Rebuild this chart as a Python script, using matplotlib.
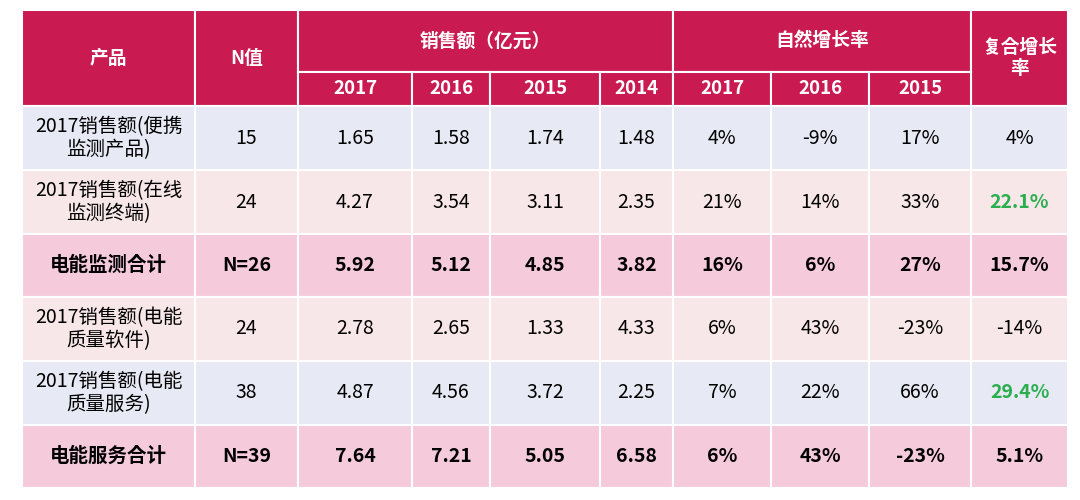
import matplotlib
matplotlib.use("Agg")
import matplotlib.pyplot as plt
from matplotlib.patches import Rectangle
from matplotlib import font_manager as fm

cjk_path = None
for f in fm.findSystemFonts():
    if "CJK" in f and ("Regular" in f or "Medium" in f):
        cjk_path = f
        break
if cjk_path is None:
    for f in fm.findSystemFonts():
        if "CJK" in f:
            cjk_path = f
            break
if cjk_path:
    fm.fontManager.addfont(cjk_path)
    fam = fm.FontProperties(fname=cjk_path).get_name()
    plt.rcParams["font.family"] = [fam, "DejaVu Sans"]
else:
    plt.rcParams["font.family"] = ["Noto Sans CJK SC", "Noto Sans CJK JP", "DejaVu Sans"]

products = ["2017销售额(便携\n监测产品)", "2017销售额(在线\n监测终端)", "电能监测合计",
            "2017销售额(电能\n质量软件)", "2017销售额(电能\n质量服务)", "电能服务合计"]
n_values = ["15", "24", "N=26", "24", "38", "N=39"]
sales = [["1.65", "1.58", "1.74", "1.48"],
         ["4.27", "3.54", "3.11", "2.35"],
         ["5.92", "5.12", "4.85", "3.82"],
         ["2.78", "2.65", "1.33", "4.33"],
         ["4.87", "4.56", "3.72", "2.25"],
         ["7.64", "7.21", "5.05", "6.58"]]
growth = [["4%", "-9%", "17%"],
          ["21%", "14%", "33%"],
          ["16%", "6%", "27%"],
          ["6%", "43%", "-23%"],
          ["7%", "22%", "66%"],
          ["6%", "43%", "-23%"]]
cagr = ["4%", "22.1%", "15.7%", "-14%", "29.4%", "5.1%"]
sales_years = ["2017", "2016", "2015", "2014"]
growth_years = ["2017", "2016", "2015"]

col_edges = [22, 195, 298, 412, 490, 600, 673, 771, 869, 971, 1068]
row_edges = [106, 170, 234, 297, 361, 425, 488]
bold_rows = {2, 5}
row_colors = ["#E7E9F4", "#F8E7E9", "#F5CADB", "#F8E7E9", "#E7E9F4", "#F5CADB"]
header_color = "#C91A51"
green = "#2AAE4E"

fig = plt.figure(figsize=(10.8, 5.0), dpi=100)
ax = fig.add_axes([0, 0, 1, 1])
ax.set_xlim(0, 1080)
ax.set_ylim(500, 0)
ax.axis("off")

def cell(x0, x1, y0, y1, color, text="", tc="black", bold=False, size=13.5):
    ax.add_patch(Rectangle((x0, y0), x1 - x0, y1 - y0, facecolor=color,
                           edgecolor="white", linewidth=1.5))
    if text:
        ax.text((x0 + x1) / 2, (y0 + y1) / 2, text, ha="center", va="center",
                color=tc, fontsize=size, fontweight="bold" if bold else "normal",
                linespacing=1.1)

H0, H1, H2 = 10, 72, 106
cell(col_edges[0], col_edges[1], H0, H2, header_color, "产品", "white", True)
cell(col_edges[1], col_edges[2], H0, H2, header_color, "N值", "white", True)
cell(col_edges[2], col_edges[6], H0, H1, header_color, "销售额（亿元）", "white", True)
cell(col_edges[6], col_edges[9], H0, H1, header_color, "自然增长率", "white", True)
cell(col_edges[9], col_edges[10], H0, H2, header_color, "复合增长\n率", "white", True)
for i, y in enumerate(sales_years):
    cell(col_edges[2 + i], col_edges[3 + i], H1, H2, header_color, y, "white", True)
for i, y in enumerate(growth_years):
    cell(col_edges[6 + i], col_edges[7 + i], H1, H2, header_color, y, "white", True)

for r in range(len(products)):
    y0, y1 = row_edges[r], row_edges[r + 1]
    b = r in bold_rows
    c = row_colors[r]
    cell(col_edges[0], col_edges[1], y0, y1, c, products[r], "black", b, 14)
    cell(col_edges[1], col_edges[2], y0, y1, c, n_values[r], "black", b, 14)
    for i, v in enumerate(sales[r]):
        cell(col_edges[2 + i], col_edges[3 + i], y0, y1, c, v, "black", b, 14)
    for i, v in enumerate(growth[r]):
        cell(col_edges[6 + i], col_edges[7 + i], y0, y1, c, v, "black", b, 14)
    g = cagr[r] in ("22.1%", "29.4%")
    cell(col_edges[9], col_edges[10], y0, y1, c, cagr[r], green if g else "black", b or g, 14)

fig.savefig("out.png", dpi=100, facecolor="white")
